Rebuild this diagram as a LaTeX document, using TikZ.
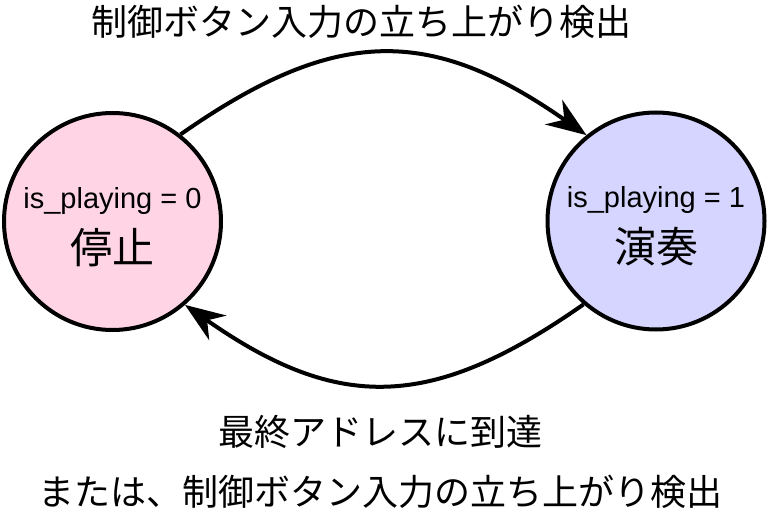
\documentclass[tikz,border=0pt]{standalone}
\usepackage{fontspec}
\setmainfont{Liberation Sans}
\newfontfamily\jpfont{Noto Sans CJK JP}
\usetikzlibrary{arrows.meta}
\definecolor{stopfill}{RGB}{255,213,229}
\definecolor{playfill}{RGB}{213,213,255}
\tikzset{
	state/.style={circle, draw=black, line width=4pt, minimum size=217pt, inner sep=0pt,
		align=center, font=\fontsize{29pt}{55pt}\selectfont},
	trans/.style={line width=4pt, -{Stealth[length=40pt, width=30pt, inset=13pt]}},
	msg/.style={font=\jpfont\fontsize{36pt}{44pt}\selectfont, inner sep=0pt}
}
\newcommand{\statename}[1]{{\jpfont\fontsize{42pt}{55pt}\selectfont #1}}

\begin{document}
\begin{tikzpicture}[x=1pt, y=1pt]
\useasboundingbox (0, 0) rectangle (768, 509);

\node[state, fill=stopfill] (stop) at (112.5, 287.5) {\rule{0pt}{32pt}is\_playing = 0\\\statename{停止}};
\node[state, fill=playfill] (play) at (656, 288) {\rule{0pt}{32pt}is\_playing = 1\\\statename{演奏}};

\draw[trans] (stop.52) to[out=35, in=145, looseness=1.2] (play.129);
\draw[trans] (play.229) to[out=215, in=-35, looseness=1.2] (stop.311);

\node[msg] (rise) at (361, 487) {制御ボタン入力の立ち上がり検出};
\node[msg] (last) at (380, 77) {最終アドレスに到達};
\node[msg] (orrise) at (380, 17) {または、制御ボタン入力の立ち上がり検出};

\end{tikzpicture}
\end{document}
